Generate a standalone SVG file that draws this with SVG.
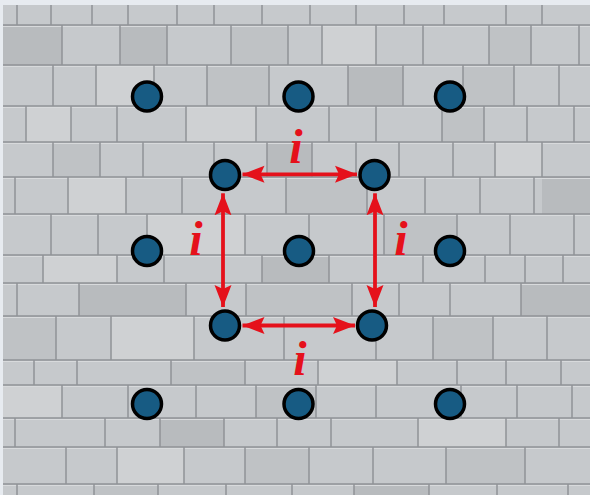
<svg xmlns="http://www.w3.org/2000/svg" width="590" height="495" viewBox="0 0 590 495">
<defs>
<style>
.node{fill:#175b83;stroke:#000;stroke-width:3.5}
.edge{stroke:#e5111b;stroke-width:3.8;fill:none}
.lbl{font-family:"Liberation Serif","DejaVu Serif",serif;font-style:italic;font-weight:bold;font-size:48px;fill:#e5111b;text-anchor:middle}
.joint{stroke:#909397;stroke-width:1.5;fill:none}
.hi{stroke:#d8dadc;stroke-width:1;fill:none}
.d1{fill:#b8bbbe}
.d2{fill:#bfc2c5}
.l1{fill:#cfd1d3}
</style>
<marker id="ah" markerUnits="userSpaceOnUse" markerWidth="23" markerHeight="18" viewBox="0 0 23 18" refX="22" refY="9" orient="auto-start-reverse">
<path d="M0,0.5 L22,9 L0,17.5 L4,9 Z" fill="#e5111b"/>
</marker>
</defs>
<rect x="0" y="0" width="590" height="495" fill="#e7ebf0"/>
<g id="wall">
<rect x="3" y="5" width="587" height="490" fill="#c6c9cc"/>
<rect x="3" y="25" width="59" height="40" class="d1"/>
<rect x="120" y="25" width="47" height="40" class="d1"/>
<rect x="231" y="25" width="57" height="40" class="d2"/>
<rect x="322" y="25" width="54" height="40" class="l1"/>
<rect x="489" y="25" width="42" height="40" class="d2"/>
<rect x="348" y="65" width="55" height="41" class="d1"/>
<rect x="96" y="65" width="58" height="41" class="l1"/>
<rect x="207" y="65" width="62" height="41" class="d2"/>
<rect x="463" y="65" width="51" height="41" class="d2"/>
<rect x="26" y="106" width="45" height="36" class="l1"/>
<rect x="186" y="106" width="70" height="36" class="l1"/>
<rect x="442" y="106" width="42" height="36" class="d2"/>
<rect x="267" y="142" width="45" height="35" class="d1"/>
<rect x="53" y="142" width="47" height="35" class="d2"/>
<rect x="495" y="142" width="47" height="35" class="l1"/>
<rect x="542" y="177" width="48" height="37" class="d1"/>
<rect x="286" y="177" width="81" height="37" class="d2"/>
<rect x="68" y="177" width="58" height="37" class="l1"/>
<rect x="147" y="214" width="98" height="41" class="l1"/>
<rect x="384" y="214" width="73" height="41" class="d2"/>
<rect x="262" y="255" width="67" height="28" class="d1"/>
<rect x="43" y="255" width="74" height="28" class="l1"/>
<rect x="79" y="283" width="107" height="33" class="d1"/>
<rect x="246" y="283" width="106" height="33" class="d2"/>
<rect x="521" y="283" width="69" height="33" class="d1"/>
<rect x="3" y="316" width="53" height="44" class="d2"/>
<rect x="433" y="316" width="60" height="44" class="d2"/>
<rect x="111" y="316" width="83" height="44" class="l1"/>
<rect x="171" y="360" width="74" height="25" class="d2"/>
<rect x="318" y="360" width="79" height="25" class="l1"/>
<rect x="3" y="385" width="59" height="33" class="l1"/>
<rect x="256" y="385" width="60" height="33" class="d2"/>
<rect x="160" y="418" width="64" height="29" class="d1"/>
<rect x="418" y="418" width="88" height="29" class="l1"/>
<rect x="245" y="447" width="64" height="37" class="d2"/>
<rect x="117" y="447" width="67" height="37" class="l1"/>
<rect x="446" y="447" width="79" height="37" class="d2"/>
<rect x="94" y="484" width="64" height="11" class="d2"/>
<rect x="354" y="484" width="75" height="11" class="d1"/>
<path class="hi" d="M3,26.5H590M3,66.5H590M3,107.5H590M3,143.5H590M3,178.5H590M3,215.5H590M3,256.5H590M3,284.5H590M3,317.5H590M3,361.5H590M3,386.5H590M3,419.5H590M3,448.5H590M3,485.5H590"/>
<path class="joint" d="M3,25H590M3,65H590M3,106H590M3,142H590M3,177H590M3,214H590M3,255H590M3,283H590M3,316H590M3,360H590M3,385H590M3,418H590M3,447H590M3,484H590"/>
<path class="joint" d="
M17,5V25M51,5V25M92,5V25M128,5V25M177,5V25M214,5V25M262,5V25M310,5V25M356,5V25M404,5V25M444,5V25M506,5V25M542,5V25
M62,25V65M120,25V65M167,25V65M231,25V65M288,25V65M322,25V65M376,25V65M423,25V65M489,25V65M531,25V65M579,25V65
M53,65V106M96,65V106M154,65V106M207,65V106M269,65V106M348,65V106M403,65V106M463,65V106M514,65V106M559,65V106
M26,106V142M71,106V142M117,106V142M186,106V142M256,106V142M329,106V142M376,106V142M442,106V142M484,106V142M527,106V142M574,106V142
M53,142V177M100,142V177M143,142V177M214,142V177M267,142V177M312,142V177M356,142V177M399,142V177M453,142V177M495,142V177M542,142V177
M15,177V214M68,177V214M126,177V214M182,177V214M286,177V214M367,177V214M425,177V214M480,177V214M534,177V214
M51,214V255M98,214V255M147,214V255M245,214V255M309,214V255M384,214V255M457,214V255M510,214V255M574,214V255
M43,255V283M117,255V283M164,255V283M262,255V283M329,255V283M423,255V283M485,255V283M525,255V283M563,255V283
M17,283V316M79,283V316M186,283V316M246,283V316M352,283V316M399,283V316M450,283V316M521,283V316
M56,316V360M111,316V360M194,316V360M284,316V360M376,316V360M433,316V360M493,316V360M547,316V360
M34,360V385M77,360V385M171,360V385M245,360V385M318,360V385M397,360V385M457,360V385M506,360V385M561,360V385
M62,385V418M128,385V418M196,385V418M256,385V418M316,385V418M376,385V418M461,385V418M517,385V418M572,385V418
M15,418V447M105,418V447M160,418V447M224,418V447M277,418V447M331,418V447M418,418V447M506,418V447M559,418V447
M66,447V484M117,447V484M184,447V484M245,447V484M309,447V484M373,447V484M446,447V484M525,447V484
M17,484V495M94,484V495M158,484V495M226,484V495M292,484V495M354,484V495M429,484V495M497,484V495M568,484V495"/>
</g>
<g id="connectors">
<line class="edge" x1="242.5" y1="174.3" x2="357" y2="174.3" marker-start="url(#ah)" marker-end="url(#ah)"/>
<line class="edge" x1="223" y1="193.3" x2="223" y2="307" marker-start="url(#ah)" marker-end="url(#ah)"/>
<line class="edge" x1="375" y1="193.3" x2="375" y2="307" marker-start="url(#ah)" marker-end="url(#ah)"/>
<line class="edge" x1="242.5" y1="325.5" x2="355" y2="325.5" marker-start="url(#ah)" marker-end="url(#ah)"/>
</g>
<g id="labels">
<text class="lbl" x="296" y="163">i</text>
<text class="lbl" x="196" y="255">i</text>
<text class="lbl" x="401" y="255">i</text>
<text class="lbl" x="300" y="375">i</text>
</g>
<g id="n1"><circle class="node" cx="147" cy="96.5" r="14.5"/></g>
<g id="n2"><circle class="node" cx="298.5" cy="96.5" r="14.5"/></g>
<g id="n3"><circle class="node" cx="450" cy="96.5" r="14.5"/></g>
<g id="n4"><circle class="node" cx="225" cy="175" r="14.5"/></g>
<g id="n5"><circle class="node" cx="374.5" cy="175" r="14.5"/></g>
<g id="n6"><circle class="node" cx="147" cy="251" r="14.5"/></g>
<g id="n7"><circle class="node" cx="299" cy="251" r="14.5"/></g>
<g id="n8"><circle class="node" cx="450" cy="251" r="14.5"/></g>
<g id="n9"><circle class="node" cx="225" cy="325.5" r="14.5"/></g>
<g id="n10"><circle class="node" cx="372" cy="325.5" r="14.5"/></g>
<g id="n11"><circle class="node" cx="147" cy="404" r="14.5"/></g>
<g id="n12"><circle class="node" cx="298.5" cy="404" r="14.5"/></g>
<g id="n13"><circle class="node" cx="450" cy="404" r="14.5"/></g>
</svg>
